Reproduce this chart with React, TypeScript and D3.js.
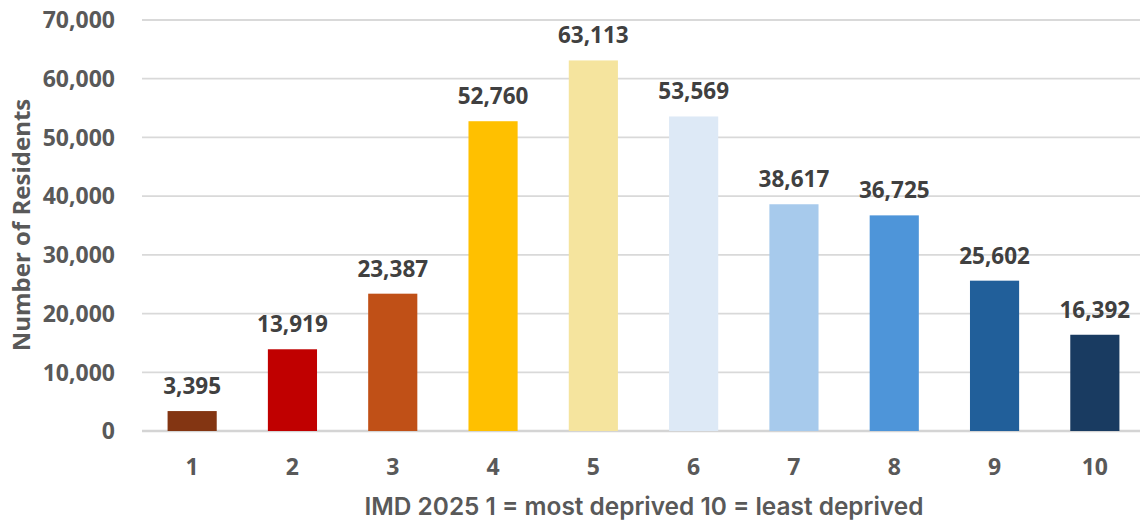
import React from "react";
import * as d3 from "d3";

const categories = ["1", "2", "3", "4", "5", "6", "7", "8", "9", "10"];
const residents = [3395, 13919, 23387, 52760, 63113, 53569, 38617, 36725, 25602, 16392];
const barColors = ["#833512", "#c00000", "#c05017", "#ffc000", "#f5e49e", "#dde9f6", "#a7caec", "#4e95d9", "#215f9a", "#193b61"];
const yTicks = [0, 10000, 20000, 30000, 40000, 50000, 60000, 70000];
const yTitle = "Number of Residents";
const xTitle = "IMD 2025 1 = most deprived 10 = least deprived";

const W = 1140;
const H = 521;
const FONT = "'Open Sans', 'DejaVu Sans', sans-serif";

export default function App() {
  const x = d3.scaleBand<string>().domain(categories).range([142, 1145]).paddingInner(0.51).paddingOuter(0.255);
  const y = d3.scaleLinear().domain([0, 70000]).range([431, 20]);
  const fmt = d3.format(",");

  return (
    <svg width={W} height={H} style={{ position: "absolute", left: 0, top: 0, background: "#fff" }}>
      {yTicks.map((t) => (
        <line key={"g" + t} x1={142} x2={W} y1={y(t)} y2={y(t)} stroke={t === 0 ? "#d4d4d4" : "#d9d9d9"} strokeWidth={t === 0 ? 2.5 : 1.8} />
      ))}
      {yTicks.map((t) => (
        <text key={"yt" + t} x={115} y={y(t)} dy="0.36em" textAnchor="end" fontFamily={FONT} fontWeight={700} fontSize={23} fill="#595959">
          {fmt(t)}
        </text>
      ))}
      {categories.map((c, i) => (
        <rect key={"b" + c} x={x(c)} y={y(residents[i])} width={x.bandwidth()} height={y(0) - y(residents[i])} fill={barColors[i]} />
      ))}
      {categories.map((c, i) => (
        <text key={"l" + c} x={(x(c) as number) + x.bandwidth() / 2} y={y(residents[i]) - 17} textAnchor="middle" fontFamily={FONT} fontWeight={700} fontSize={22.5} fill="#404040">
          {fmt(residents[i])}
        </text>
      ))}
      {categories.map((c) => (
        <text key={"x" + c} x={(x(c) as number) + x.bandwidth() / 2} y={467} dy="0.36em" textAnchor="middle" fontFamily={FONT} fontWeight={700} fontSize={23} fill="#595959">
          {c}
        </text>
      ))}
      <text x={644} y={506} dy="0.36em" textAnchor="middle" fontFamily="Inter, 'Open Sans', sans-serif" fontWeight={600} fontSize={24.4} fill="#595959">
        {xTitle}
      </text>
      <text transform={`translate(21,${225}) rotate(-90)`} dy="0.36em" textAnchor="middle" fontFamily={FONT} fontWeight={700} fontSize={24} fill="#595959">
        {yTitle}
      </text>
    </svg>
  );
}
